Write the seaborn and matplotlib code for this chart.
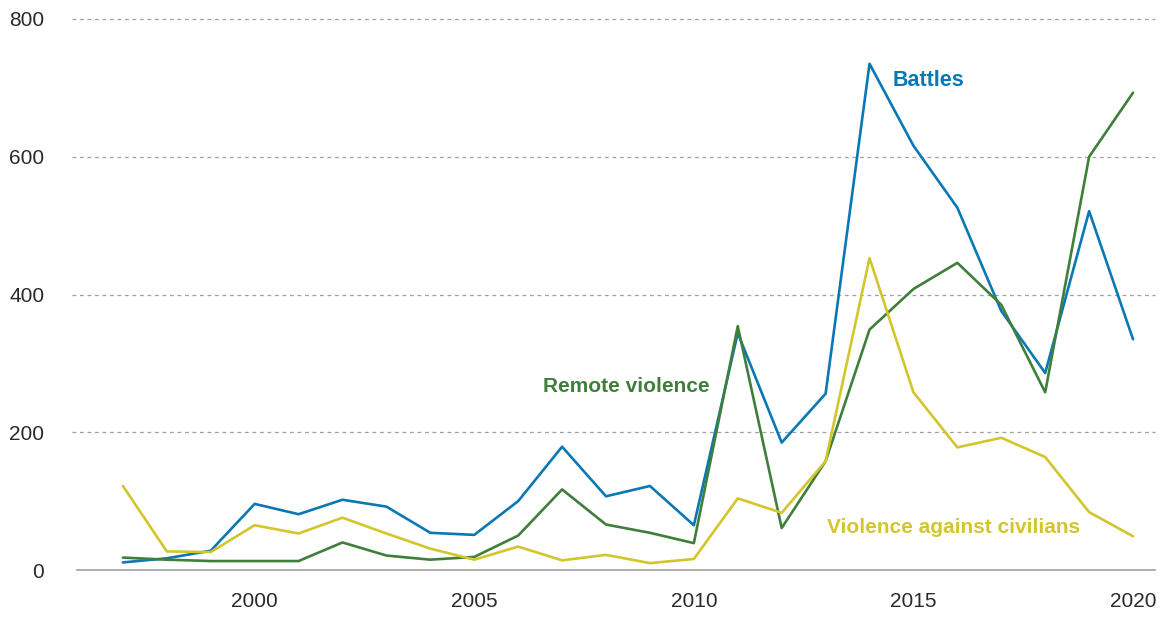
import matplotlib
matplotlib.use("Agg")
import matplotlib.pyplot as plt
import seaborn as sns
import pandas as pd

years = list(range(1997, 2021))
battles = [11, 17, 28, 96, 81, 102, 92, 54, 51, 100, 179, 107, 122, 65,
           344, 185, 256, 735, 616, 526, 376, 286, 521, 335]
remote_violence = [18, 15, 13, 13, 13, 40, 21, 15, 19, 50, 117, 66, 54, 39,
                   354, 61, 158, 349, 408, 446, 385, 258, 600, 693]
violence_civilians = [122, 27, 26, 65, 53, 76, 53, 31, 15, 34, 14, 22, 10, 16,
                      104, 83, 158, 453, 258, 178, 192, 164, 84, 49]
series_names = ["Battles", "Remote violence", "Violence against civilians"]
y_ticks = [0, 200, 400, 600, 800]
x_ticks = [2000, 2005, 2010, 2015, 2020]

colors = {"Battles": "#0a78b4", "Remote violence": "#3f7f3b",
          "Violence against civilians": "#d3c52c"}

df = pd.DataFrame({
    "year": years * 3,
    "value": battles + remote_violence + violence_civilians,
    "series": [series_names[0]] * len(years) + [series_names[1]] * len(years)
              + [series_names[2]] * len(years),
})

sns.set_theme(style="white")
plt.rcParams["font.family"] = ["Liberation Sans", "DejaVu Sans"]

W, H = 1162, 623
L, R, B, T = 77, 1155, 570, 19
fig = plt.figure(figsize=(W / 100, H / 100), dpi=100)
ax = fig.add_axes([L / W, 1 - B / H, (R - L) / W, (B - T) / H])

for yv in y_ticks[1:]:
    ax.axhline(yv, xmin=-5 / (R - L), xmax=1, color="#a0a0a0", lw=0.9,
               ls=(0, (3, 3)), zorder=0, clip_on=False)

sns.lineplot(data=df, x="year", y="value", hue="series", palette=colors,
             hue_order=series_names, linewidth=1.9, legend=False, ax=ax,
             zorder=3)

ax.set_xlim(1995.955, 2020.5)
ax.set_ylim(0, 800)
ax.set_xticks(x_ticks)
ax.set_yticks(y_ticks)
ax.set_xlabel("")
ax.set_ylabel("")
for s in ["top", "right", "left"]:
    ax.spines[s].set_visible(False)
ax.spines["bottom"].set_color("#a0a0a0")
ax.spines["bottom"].set_linewidth(1.2)
ax.tick_params(axis="both", length=0, labelsize=15, colors="#2a2a2a")
ax.tick_params(axis="y", pad=23.5)
ax.tick_params(axis="x", pad=16)

ax.text(2014.53, 711, "Battles", color=colors["Battles"], fontsize=15.5,
        fontweight="bold", ha="left", va="center")
ax.text(2010.35, 266, "Remote violence", color=colors["Remote violence"],
        fontsize=15, fontweight="bold", ha="right", va="center")
ax.text(2013.03, 61, "Violence against civilians",
        color=colors["Violence against civilians"], fontsize=15,
        fontweight="bold", ha="left", va="center")

fig.savefig("out.png", dpi=100)
